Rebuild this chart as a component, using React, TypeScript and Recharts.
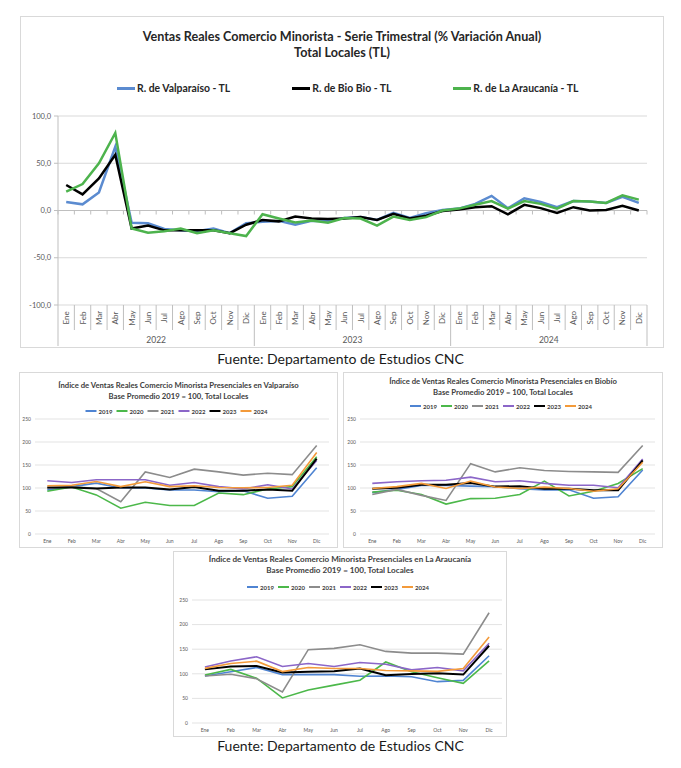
import React from "react";
import { CartesianGrid, Line, LineChart, ReferenceLine, XAxis, YAxis } from "recharts";

const MONTHS = ["Ene", "Feb", "Mar", "Abr", "May", "Jun", "Jul", "Ago", "Sep", "Oct", "Nov", "Dic"];
const TL_YEARS = ["2022", "2023", "2024"];
const TL_TICKS = [-100, -50, 0, 50, 100];

// % variación anual, ene-2022 .. dic-2024
const valparaisoTL = [
  9, 6.5, 19, 67.5, -13, -13.5, -19.5, -21, -22, -19, -24, -13.5,
  -12, -11, -15, -11, -11, -8, -7, -10, -2.5, -8, -3, 0.5,
  2, 7, 15.5, 2.5, 13, 9, 3.5, 10, 9.5, 8, 14.5, 8,
];
const bioBioTL = [
  27, 17, 34, 59, -19, -16, -21, -21, -21, -21, -24, -15,
  -10, -11.5, -6.3, -8.5, -9, -8.5, -7, -10, -3.5, -8.5, -5.5, -0.5,
  1, 3.5, 4.5, -4, 6, 2.5, -2.5, 3.5, 0, 0.5, 5, 0,
];
const araucaniaTL = [
  20, 28, 50, 82, -19, -23.5, -22, -19, -24, -21, -24, -27,
  -4, -8.5, -12.7, -10.5, -13, -8, -8.5, -16, -6.5, -10, -7, 0,
  2, 6, 10, 2, 10, 7, 2, 10, 9.5, 8, 16, 11.5,
];

const TL_SERIES = [
  { key: "valparaiso", name: "R. de Valparaíso - TL", color: "#5B8BD0", values: valparaisoTL },
  { key: "biobio", name: "R. de Bio Bio - TL", color: "#000000", values: bioBioTL },
  { key: "araucania", name: "R. de La Araucanía - TL", color: "#4DB34D", values: araucaniaTL },
];

// Índice base promedio 2019 = 100
const INDEX_YEARS = ["2019", "2020", "2021", "2022", "2023", "2024"];
const INDEX_COLORS = ["#4F84D2", "#4CB84A", "#8C8C8C", "#8B66C8", "#000000", "#F39A3A"];
const INDEX_TICKS = [0, 50, 100, 150, 200, 250];

const valpo2019 = [96, 103, 110.6, 100, 100, 95.5, 95.5, 92, 94, 77.6, 82, 144];
const valpo2020 = [93, 102, 85, 56, 69, 62, 62, 89, 85.5, 98, 103, 168];
const valpo2021 = [100, 103, 99, 70, 135, 123, 141, 135, 128, 132, 129, 192.5];
const valpo2022 = [115.7, 112, 118, 118, 118, 106, 112, 103, 98, 107, 98, 160];
const valpo2023 = [101, 101, 99, 101, 101, 97, 102, 94, 94, 97, 94, 164];
const valpo2024 = [105, 106, 114, 103, 113.5, 103, 105, 101, 100.5, 101, 106, 177];

const biobio2019 = [90, 97, 105.6, 105.6, 104, 103, 98.4, 96, 96, 77.6, 81, 139];
const biobio2020 = [91, 95, 86, 65, 77, 77.6, 86, 115, 82.6, 93, 110, 142];
const biobio2021 = [86, 97, 84, 73, 153, 135, 144, 138, 136, 135, 134, 192.5];
const biobio2022 = [110, 113.5, 115.7, 117, 123.6, 113.5, 115.7, 110, 106, 106, 100.6, 163];
const biobio2023 = [98.4, 100.6, 107, 107, 111, 103, 104, 98.4, 98.4, 95, 95, 160];
const biobio2024 = [99, 103, 110, 99, 115, 102, 99, 102, 99, 93, 98.4, 156];

const arauc2019 = [95.6, 104, 112.7, 98.4, 98.4, 98.4, 95, 95.6, 94, 84, 86.7, 136.6];
const arauc2020 = [97.7, 109, 91, 51, 67, 77, 87, 124, 104, 92, 80.6, 126.4];
const arauc2021 = [95.6, 99, 90, 63, 149, 151.6, 159, 145.5, 142, 142, 140, 224];
const arauc2022 = [114, 126, 134.6, 114.8, 121, 114.8, 123, 119.5, 108, 112.7, 106, 162];
const arauc2023 = [109, 114.8, 116, 102.5, 104, 105, 110.7, 97, 99.7, 101, 98.4, 157];
const arauc2024 = [111, 121, 125.7, 104.5, 112.7, 110.7, 110.7, 106.6, 106, 105, 110.7, 175];

const FONT = "Lato, 'Open Sans', sans-serif";
const AXIS_TEXT = "#595959";
const BOX_BORDER = "1px solid #d9d9d9";
// half of one category slot, so points sit in the middle of each slot like Excel
const TL_HALF_SLOT = 8.2;

const tlRows = valparaisoTL.map((_, i) => {
  const row: Record<string, string | number> = {
    id: `${TL_YEARS[Math.floor(i / 12)]}-${MONTHS[i % 12]}`,
    month: MONTHS[i % 12],
    year: TL_YEARS[Math.floor(i / 12)],
  };
  for (const s of TL_SERIES) row[s.key] = s.values[i];
  return row;
});

function PeriodTick(props: any) {
  const { x, y, index } = props;
  const row = tlRows[index];
  if (!row) return null;
  const left = x - TL_HALF_SLOT;
  const firstOfYear = index % 12 === 0;
  const isLast = index === tlRows.length - 1;
  return (
    <g>
      <line x1={left} x2={left} y1={y} y2={y + (firstOfYear ? 41 : 25)} stroke="#bfbfbf" />
      {isLast && <line x1={x + TL_HALF_SLOT} x2={x + TL_HALF_SLOT} y1={y} y2={y + 41} stroke="#bfbfbf" />}
      <text
        transform={`translate(${x}, ${y + 13}) rotate(-90)`}
        textAnchor="middle"
        dominantBaseline="central"
        fontSize={8}
        fill={AXIS_TEXT}
        fontFamily={FONT}
      >
        {row.month}
      </text>
      {index % 12 === 6 && (
        <text x={left} y={y + 35} textAnchor="middle" dominantBaseline="central" fontSize={8.5} fill={AXIS_TEXT} fontFamily={FONT}>
          {row.year}
        </text>
      )}
    </g>
  );
}

function ZeroAxis(props: any) {
  const { x1, x2, y1 } = props;
  if (typeof x1 !== "number" || typeof x2 !== "number" || typeof y1 !== "number") return null;
  const n = tlRows.length;
  const step = (x2 - x1) / n;
  return (
    <g>
      <line x1={x1} x2={x2} y1={y1} y2={y1} stroke="#bfbfbf" />
      {Array.from({ length: n + 1 }, (_, k) => (
        <line key={k} x1={x1 + k * step} x2={x1 + k * step} y1={y1} y2={y1 + 4} stroke="#bfbfbf" />
      ))}
    </g>
  );
}

function TrimestralChart() {
  return (
    <div style={{ position: "absolute", left: 20, top: 16, width: 644, height: 332, border: BOX_BORDER, boxSizing: "border-box" }}>
      <div style={{ position: "absolute", top: 12, width: "100%", textAlign: "center", fontFamily: FONT, fontWeight: 700, fontSize: 12.6, lineHeight: "16px", color: "#262626" }}>
        Ventas Reales Comercio Minorista - Serie Trimestral (% Variación Anual)
        <br />
        Total Locales (TL)
      </div>
      <div style={{ position: "absolute", top: 65, left: 96, display: "flex", gap: 62, fontFamily: FONT, fontWeight: 700, fontSize: 10.4, color: "#262626" }}>
        {TL_SERIES.map((s) => (
          <div key={s.key} style={{ display: "flex", alignItems: "center" }}>
            <span style={{ display: "inline-block", width: 18, height: 3, background: s.color, marginRight: 2 }} />
            {s.name}
          </div>
        ))}
      </div>
      <LineChart width={642} height={330} data={tlRows} margin={{ top: 99, right: 16, bottom: 2, left: 0 }}>
        <CartesianGrid vertical={false} stroke="#d9d9d9" />
        <XAxis
          dataKey="id"
          interval={0}
          axisLine={false}
          tickLine={false}
          tickSize={0}
          tickMargin={0}
          height={40}
          padding={{ left: TL_HALF_SLOT, right: TL_HALF_SLOT }}
          tick={<PeriodTick />}
        />
        <YAxis
          domain={[-100, 100]}
          ticks={TL_TICKS}
          width={37}
          stroke="#bfbfbf"
          tickSize={4}
          tickMargin={3}
          tick={{ fontSize: 7.5, fill: AXIS_TEXT, fontFamily: FONT }}
          tickFormatter={(v: number) => v.toFixed(1).replace(".", ",")}
        />
        <ReferenceLine y={0} shape={<ZeroAxis />} />
        {TL_SERIES.map((s) => (
          <Line key={s.key} dataKey={s.key} name={s.name} stroke={s.color} strokeWidth={2.5} dot={false} type="linear" isAnimationActive={false} />
        ))}
      </LineChart>
    </div>
  );
}

interface IndexChartProps {
  title: string;
  left: number;
  top: number;
  width: number;
  height: number;
  titleTop: number;
  legendTop: number;
  titleSize: number;
  margin: { top: number; right: number; bottom: number; left: number };
  yWidth: number;
  halfSlot: number;
  series: number[][];
}

function IndexChart(p: IndexChartProps) {
  const rows = MONTHS.map((m, i) => {
    const row: Record<string, string | number> = { month: m };
    INDEX_YEARS.forEach((y, k) => (row[`y${y}`] = p.series[k][i]));
    return row;
  });
  return (
    <div style={{ position: "absolute", left: p.left, top: p.top, width: p.width, height: p.height, border: BOX_BORDER, boxSizing: "border-box" }}>
      <div style={{ position: "absolute", top: p.titleTop, width: "100%", textAlign: "center", fontFamily: FONT, fontWeight: 700, fontSize: p.titleSize, lineHeight: `${p.titleSize * 1.4}px`, color: "#404040" }}>
        {p.title}
        <br />
        Base Promedio 2019 = 100, Total Locales
      </div>
      <svg
        width={p.width - 2}
        height={10}
        style={{ position: "absolute", left: 0, top: p.legendTop, fontFamily: FONT, fontWeight: 700, fontSize: 6 }}
      >
        {INDEX_YEARS.map((y, k) => {
          const step = 31;
          const x0 = (p.width - 2) / 2 - (INDEX_YEARS.length * step) / 2 + k * step;
          return (
            <g key={y}>
              <line x1={x0} x2={x0 + 11} y1={5} y2={5} stroke={INDEX_COLORS[k]} strokeWidth={2} />
              <text x={x0 + 13} y={5} dominantBaseline="central" fill="#404040">
                {y}
              </text>
            </g>
          );
        })}
      </svg>
      <LineChart width={p.width - 2} height={p.height - 2} data={rows} margin={p.margin}>
        <CartesianGrid vertical={false} stroke="#e3e3e3" />
        <XAxis
          dataKey="month"
          interval={0}
          axisLine={false}
          tickLine={false}
          tickSize={0}
          tickMargin={5}
          height={12}
          padding={{ left: p.halfSlot, right: p.halfSlot }}
          tick={{ fontSize: 5, fill: AXIS_TEXT, fontFamily: FONT }}
        />
        <YAxis domain={[0, 250]} ticks={INDEX_TICKS} width={p.yWidth} axisLine={false} tickLine={false} tickSize={0} tickMargin={4} tick={{ fontSize: 5, fill: AXIS_TEXT, fontFamily: FONT }} />
        {INDEX_YEARS.map((y, k) => (
          <Line key={y} dataKey={`y${y}`} name={y} stroke={INDEX_COLORS[k]} strokeWidth={k === 4 ? 2 : 1.6} dot={false} type="linear" isAnimationActive={false} />
        ))}
      </LineChart>
    </div>
  );
}

const sourceStyle: React.CSSProperties = {
  position: "absolute",
  left: 0,
  width: 681,
  textAlign: "center",
  fontFamily: FONT,
  fontSize: 14,
  color: "#1a1a1a",
};

export default function App() {
  return (
    <div style={{ position: "absolute", left: 0, top: 0, width: 681, height: 768, background: "#fff" }}>
      <TrimestralChart />
      <div style={{ ...sourceStyle, top: 350 }}>Fuente: Departamento de Estudios CNC</div>
      <IndexChart
        title="Índice de Ventas Reales Comercio Minorista Presenciales en Valparaíso"
        left={19}
        top={372}
        width={319}
        height={176}
        titleTop={7}
        legendTop={33}
        titleSize={7.7}
        margin={{ top: 46, right: 8, bottom: 1, left: 0 }}
        yWidth={15}
        halfSlot={12.3}
        series={[valpo2019, valpo2020, valpo2021, valpo2022, valpo2023, valpo2024]}
      />
      <IndexChart
        title="Índice de Ventas Reales Comercio Minorista Presenciales en Biobío"
        left={343}
        top={372}
        width={320}
        height={176}
        titleTop={3}
        legendTop={28}
        titleSize={7.7}
        margin={{ top: 46, right: 7, bottom: 1, left: 0 }}
        yWidth={16}
        halfSlot={12.3}
        series={[biobio2019, biobio2020, biobio2021, biobio2022, biobio2023, biobio2024]}
      />
      <IndexChart
        title="Índice de Ventas Reales Comercio Minorista Presenciales en La Araucanía"
        left={173}
        top={551}
        width={334}
        height={186}
        titleTop={2}
        legendTop={30}
        titleSize={8.1}
        margin={{ top: 48, right: 4, bottom: 1, left: 0 }}
        yWidth={18}
        halfSlot={12.9}
        series={[arauc2019, arauc2020, arauc2021, arauc2022, arauc2023, arauc2024]}
      />
      <div style={{ ...sourceStyle, top: 737 }}>Fuente: Departamento de Estudios CNC</div>
    </div>
  );
}
